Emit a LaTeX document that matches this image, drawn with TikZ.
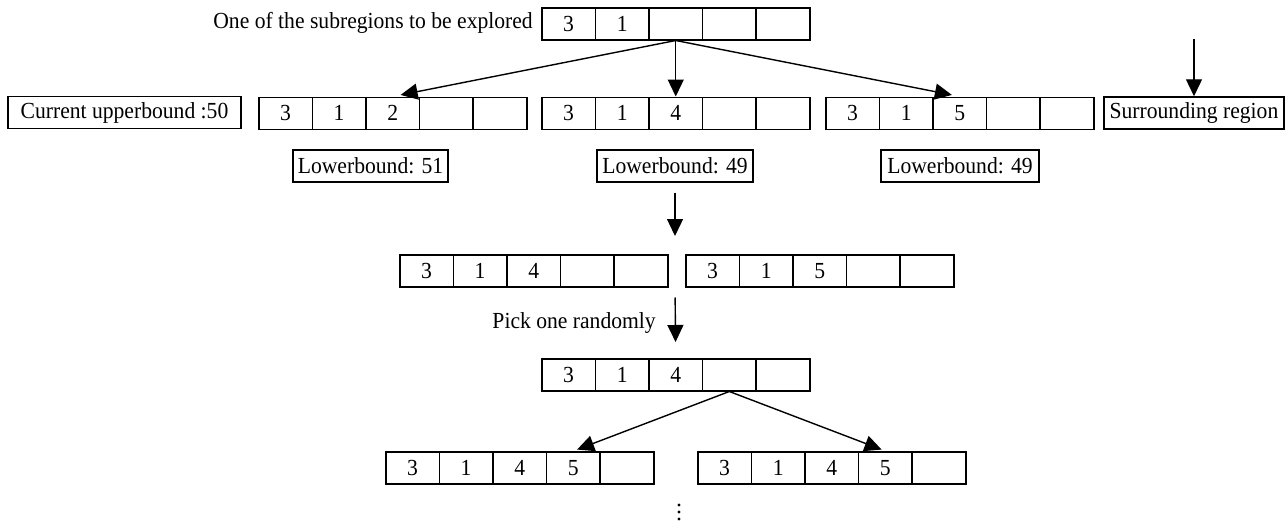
\documentclass[tikz,border=0pt]{standalone}
\usepackage{fontspec}
\setmainfont{Liberation Serif}[FakeStretch=0.94]
\usetikzlibrary{arrows.meta}

% one row of five cells, named <name>-1 ... <name>-5
\newcommand\regionrow[4]{%
  \foreach \v [count=\i] in {#4}
    \node[cellbox] (#1-\i) at ({#2+(\i-1)*53.6},#3) {\v};
}

\begin{document}
\begin{tikzpicture}[x=1pt,y=-1pt,
  every node/.style={font=\fontsize{23}{27}\selectfont, inner sep=0pt},
  cellbox/.style={draw, line width=1.5pt, minimum width=53.6pt,
    minimum height=32pt, anchor=north west},
  labelbox/.style={draw, line width=1.5pt, minimum height=32pt},
  arr/.style={line width=1.4pt, -{Triangle[length=17pt,width=16pt]}}]

\fill[white] (0,0) rectangle (1286,522);
\useasboundingbox (0,0) rectangle (1286,522);

% region being explored
\node[anchor=base east] (title) at (533,28) {One of the subregions to be explored};
\regionrow{top}{541}{7}{3,1,{},{},{}}

% its subregions
\node[labelbox, minimum width=233pt] (ub) at (124.5,112.5) {Current upperbound :50};
\regionrow{ra}{258}{96.5}{3,1,2,{},{}}
\regionrow{rb}{541}{96.5}{3,1,4,{},{}}
\regionrow{rc}{825}{96.5}{3,1,5,{},{}}
\node[labelbox, minimum width=180pt] (surr) at (1194,113) {Surrounding region};
\coordinate (surrin) at (1194,39);

\node[labelbox, minimum width=155pt] (lba) at (370.5,166) {Lowerbound: 51};
\node[labelbox, minimum width=156pt] (lbb) at (675,166) {Lowerbound: 49};
\node[labelbox, minimum width=158pt] (lbc) at (960,166) {Lowerbound: 49};

\draw[arr, shorten >=8pt] (top-3.south) -- (ra-3.north);
\draw[arr] (top-3.south) -- (rb-3.north);
\draw[arr, shorten >=8pt] (top-3.south) -- (rc-3.north);
\draw[arr] (surrin) -- (surr.north);

% candidates kept
\regionrow{rd}{399}{254}{3,1,4,{},{}}
\regionrow{re}{685}{254}{3,1,5,{},{}}
\coordinate (gapa) at (675,254);
\coordinate (gapb) at (675,286.5);
\draw[arr, shorten <=10pt, shorten >=18pt] (lbb.south) -- (gapa);

% random pick
\node[anchor=base east] (pick) at (656,328) {Pick one randomly};
\regionrow{rf}{541}{358}{3,1,4,{},{}}
\draw[arr, shorten <=11pt, shorten >=16pt] (gapb) -- (rf-3.north);

% next level
\regionrow{rg}{385}{451}{3,1,4,5,{}}
\regionrow{rh}{697}{451}{3,1,4,5,{}}
\draw[arr, shorten >=4pt] (rf-4.south) -- (rg-4.north);
\draw[arr, shorten >=4pt] (rf-4.south) -- (rh-4.north);

% continuation dots
\foreach \yy in {505,512,519}
  \fill (679,\yy) circle (1.7pt);

\end{tikzpicture}
\end{document}
